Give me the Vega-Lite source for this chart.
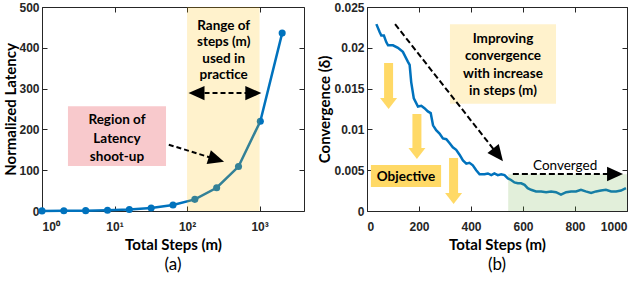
{
  "$schema": "https://vega.github.io/schema/vega-lite/v6.json",
  "padding": {"left": 3, "top": 0, "right": 0, "bottom": 0},
  "bounds": "flush",
  "spacing": 63,
  "datasets": {
    "latency": [
      {"m": 1, "lat": 0.3}, {"m": 2, "lat": 0.5}, {"m": 4, "lat": 0.9}, {"m": 8, "lat": 1.8},
      {"m": 16, "lat": 3.6}, {"m": 32, "lat": 7.2}, {"m": 64, "lat": 14.5}, {"m": 128, "lat": 28.5},
      {"m": 256, "lat": 57}, {"m": 512, "lat": 109}, {"m": 1024, "lat": 220}, {"m": 2048, "lat": 436}
    ],
    "bandA": [{"x0": 100, "x1": 1000, "y0": 0, "y1": 500}],
    "pinkA": [{"x0": 2.28, "x1": 51.3, "y0": 110, "y1": 257}],
    "textA": [
      {"x": 10.8, "y": 223, "t": "Region of"}, {"x": 10.8, "y": 176.5, "t": "Latency"}, {"x": 10.8, "y": 132, "t": "shoot-up"},
      {"x": 320, "y": 453, "t": "Range of"}, {"x": 320, "y": 414, "t": "steps (m)"}, {"x": 320, "y": 372, "t": "used in"}, {"x": 320, "y": 333, "t": "practice"}
    ],
    "rulesA": [{"x0": 56, "y0": 162.5, "x1": 254, "y1": 126.5}, {"x0": 135, "y0": 289, "x1": 820, "y1": 289}],
    "headDiagA": [{"x": 254, "y": 126.5}],
    "headLeftA": [{"x": 135, "y": 289}],
    "headRightA": [{"x": 820, "y": 289}],
    "capA": [{"x": 64, "y": -132, "t": "(a)"}],
    "conv": [
      {"s": 36, "v": 0.0229}, {"s": 49, "v": 0.0219}, {"s": 55, "v": 0.0215}, {"s": 65, "v": 0.0215},
      {"s": 74, "v": 0.0207}, {"s": 81, "v": 0.0203}, {"s": 100, "v": 0.0203}, {"s": 119, "v": 0.0200},
      {"s": 138, "v": 0.0195}, {"s": 157, "v": 0.0183}, {"s": 164, "v": 0.0179}, {"s": 170, "v": 0.0158},
      {"s": 180, "v": 0.0138}, {"s": 196, "v": 0.0128}, {"s": 209, "v": 0.0129}, {"s": 221, "v": 0.0126},
      {"s": 234, "v": 0.0122}, {"s": 245, "v": 0.0120}, {"s": 254, "v": 0.0105}, {"s": 266, "v": 0.0099},
      {"s": 279, "v": 0.0095}, {"s": 292, "v": 0.0089}, {"s": 305, "v": 0.0088}, {"s": 318, "v": 0.0083},
      {"s": 330, "v": 0.0078}, {"s": 343, "v": 0.0075}, {"s": 356, "v": 0.0069}, {"s": 369, "v": 0.0062},
      {"s": 382, "v": 0.0058}, {"s": 394, "v": 0.0059}, {"s": 407, "v": 0.0056}, {"s": 420, "v": 0.0050},
      {"s": 433, "v": 0.0045}, {"s": 452, "v": 0.0045}, {"s": 465, "v": 0.0046}, {"s": 478, "v": 0.0044},
      {"s": 490, "v": 0.0046}, {"s": 503, "v": 0.0044}, {"s": 516, "v": 0.0045}, {"s": 529, "v": 0.0044},
      {"s": 542, "v": 0.0040}, {"s": 554, "v": 0.0038}, {"s": 567, "v": 0.0035}, {"s": 580, "v": 0.0034},
      {"s": 593, "v": 0.0034}, {"s": 606, "v": 0.0032}, {"s": 618, "v": 0.0028}, {"s": 631, "v": 0.0026},
      {"s": 650, "v": 0.0024}, {"s": 670, "v": 0.0024}, {"s": 689, "v": 0.0023}, {"s": 708, "v": 0.0024},
      {"s": 727, "v": 0.0023}, {"s": 746, "v": 0.0020}, {"s": 766, "v": 0.0023}, {"s": 785, "v": 0.0024},
      {"s": 804, "v": 0.0024}, {"s": 823, "v": 0.0026}, {"s": 841, "v": 0.0024}, {"s": 862, "v": 0.0022},
      {"s": 881, "v": 0.0024}, {"s": 900, "v": 0.0025}, {"s": 919, "v": 0.0026}, {"s": 939, "v": 0.0024},
      {"s": 958, "v": 0.0024}, {"s": 977, "v": 0.0025}, {"s": 996, "v": 0.0028}
    ],
    "bandB": [{"x0": 543, "x1": 1000, "y0": 0, "y1": 0.0045}],
    "boxImp": [{"x0": 319, "x1": 727, "y0": 0.01315, "y1": 0.0229}],
    "boxObj": [{"x0": 15, "x1": 285, "y0": 0.00294, "y1": 0.00564}],
    "yShafts": [
      {"x": 83, "y0": 0.01814, "y1": 0.01373},
      {"x": 192, "y0": 0.01189, "y1": 0.0076},
      {"x": 333, "y0": 0.0065, "y1": 0.00208}
    ],
    "yHeads": [{"x": 83, "y": 0.01317}, {"x": 192, "y": 0.00705}, {"x": 333, "y": 0.00153}],
    "rulesB": [{"x0": 108, "y0": 0.0229, "x1": 504, "y1": 0.00688}, {"x0": 561, "y0": 0.00453, "x1": 954, "y1": 0.00453}],
    "headDiagB": [{"x": 504, "y": 0.00688}],
    "headRightB": [{"x": 954, "y": 0.00453}],
    "textBoldB": [
      {"x": 523, "y": 0.02108, "t": "Improving"}, {"x": 523, "y": 0.0190, "t": "convergence"},
      {"x": 523, "y": 0.01679, "t": "with increase"}, {"x": 523, "y": 0.0147, "t": "in steps (m)"},
      {"x": 150, "y": 0.00417, "t": "Objective"}
    ],
    "textConv": [{"x": 762, "y": 0.00551, "t": "Converged"}],
    "capB": [{"x": 500, "y": -0.0066, "t": "(b)"}]
  },
  "hconcat": [
    {
      "width": 262,
      "height": 204,
      "resolve": {"axis": {"x": "independent", "y": "independent"}},
      "layer": [
        {
          "data": {"name": "pinkA"},
          "mark": {"type": "rect", "color": "#F8C9CC"},
          "encoding": {
            "x": {"field": "x0", "type": "quantitative", "scale": {"type": "log", "domain": [1, 4096]}, "axis": null},
            "x2": {"field": "x1"},
            "y": {"field": "y0", "type": "quantitative", "scale": {"domain": [0, 500]}, "axis": null},
            "y2": {"field": "y1"}
          }
        },
        {
          "data": {"name": "latency"},
          "mark": {"type": "line", "color": "#0072BD", "strokeWidth": 2.5},
          "encoding": {
            "x": {"field": "m", "type": "quantitative", "scale": {"type": "log", "domain": [1, 4096]},
              "axis": {"orient": "bottom", "values": [1, 10, 100, 1000], "labelPadding": 15, "titlePadding": 5,
                "labelExpr": "datum.value == 1 ? '10⁰' : datum.value == 10 ? '10¹' : datum.value == 100 ? '10²' : '10³'",
                "title": "Total Steps (m)"}},
            "y": {"field": "lat", "type": "quantitative", "scale": {"domain": [0, 500]},
              "axis": {"orient": "left", "values": [0, 100, 200, 300, 400, 500], "labelPadding": 8, "titlePadding": 0, "title": "Normalized Latency"}}
          }
        },
        {
          "data": {"name": "latency"},
          "mark": {"type": "point", "filled": true, "size": 50, "color": "#0072BD", "opacity": 1},
          "encoding": {
            "x": {"field": "m", "type": "quantitative", "scale": {"type": "log", "domain": [1, 4096]}, "axis": null},
            "y": {"field": "lat", "type": "quantitative", "scale": {"domain": [0, 500]}, "axis": null}
          }
        },
        {
          "data": {"name": "bandA"},
          "mark": {"type": "rect", "color": "#FFC000", "opacity": 0.2},
          "encoding": {
            "x": {"field": "x0", "type": "quantitative", "scale": {"type": "log", "domain": [1, 4096]},
              "axis": {"orient": "top", "values": [1, 10, 100, 1000], "labels": false, "title": null}},
            "x2": {"field": "x1"},
            "y": {"field": "y0", "type": "quantitative", "scale": {"domain": [0, 500]},
              "axis": {"orient": "right", "values": [0, 100, 200, 300, 400, 500], "labels": false, "title": null}},
            "y2": {"field": "y1"}
          }
        },
        {
          "data": {"name": "rulesA"},
          "mark": {"type": "rule", "color": "#000", "strokeWidth": 2, "strokeDash": [5, 3]},
          "encoding": {
            "x": {"field": "x0", "type": "quantitative", "scale": {"type": "log", "domain": [1, 4096]}, "axis": null},
            "x2": {"field": "x1"},
            "y": {"field": "y0", "type": "quantitative", "scale": {"domain": [0, 500]}, "axis": null},
            "y2": {"field": "y1"}
          }
        },
        {
          "data": {"name": "headDiagA"},
          "mark": {"type": "point", "shape": "M0,-1L0.9,1L-0.9,1Z", "filled": true, "color": "#000", "opacity": 1, "size": 256, "angle": 107},
          "encoding": {
            "x": {"field": "x", "type": "quantitative", "scale": {"type": "log", "domain": [1, 4096]}, "axis": null},
            "y": {"field": "y", "type": "quantitative", "scale": {"domain": [0, 500]}, "axis": null}
          }
        },
        {
          "data": {"name": "headLeftA"},
          "mark": {"type": "point", "shape": "M0,-1L0.9,1L-0.9,1Z", "filled": true, "color": "#000", "opacity": 1, "size": 256, "angle": 270},
          "encoding": {
            "x": {"field": "x", "type": "quantitative", "scale": {"type": "log", "domain": [1, 4096]}, "axis": null},
            "y": {"field": "y", "type": "quantitative", "scale": {"domain": [0, 500]}, "axis": null}
          }
        },
        {
          "data": {"name": "headRightA"},
          "mark": {"type": "point", "shape": "M0,-1L0.9,1L-0.9,1Z", "filled": true, "color": "#000", "opacity": 1, "size": 256, "angle": 90},
          "encoding": {
            "x": {"field": "x", "type": "quantitative", "scale": {"type": "log", "domain": [1, 4096]}, "axis": null},
            "y": {"field": "y", "type": "quantitative", "scale": {"domain": [0, 500]}, "axis": null}
          }
        },
        {
          "data": {"name": "textA"},
          "mark": {"type": "text", "baseline": "middle", "align": "center"},
          "encoding": {
            "x": {"field": "x", "type": "quantitative", "scale": {"type": "log", "domain": [1, 4096]}, "axis": null},
            "y": {"field": "y", "type": "quantitative", "scale": {"domain": [0, 500]}, "axis": null},
            "text": {"field": "t"}
          }
        },
        {
          "data": {"name": "capA"},
          "mark": {"type": "text", "baseline": "middle", "align": "center", "fontWeight": "normal", "fontSize": 17},
          "encoding": {
            "x": {"field": "x", "type": "quantitative", "scale": {"type": "log", "domain": [1, 4096]}, "axis": null},
            "y": {"field": "y", "type": "quantitative", "scale": {"domain": [0, 500]}, "axis": null},
            "text": {"field": "t"}
          }
        }
      ]
    },
    {
      "width": 260,
      "height": 204,
      "resolve": {"axis": {"x": "independent", "y": "independent"}},
      "layer": [
        {
          "data": {"name": "boxImp"},
          "mark": {"type": "rect", "color": "#FFF2CC"},
          "encoding": {
            "x": {"field": "x0", "type": "quantitative", "scale": {"domain": [0, 1000]}, "axis": null},
            "x2": {"field": "x1"},
            "y": {"field": "y0", "type": "quantitative", "scale": {"domain": [0, 0.025]}, "axis": null},
            "y2": {"field": "y1"}
          }
        },
        {
          "data": {"name": "boxObj"},
          "mark": {"type": "rect", "color": "#FFD966"},
          "encoding": {
            "x": {"field": "x0", "type": "quantitative", "scale": {"domain": [0, 1000]}, "axis": null},
            "x2": {"field": "x1"},
            "y": {"field": "y0", "type": "quantitative", "scale": {"domain": [0, 0.025]}, "axis": null},
            "y2": {"field": "y1"}
          }
        },
        {
          "data": {"name": "yShafts"},
          "mark": {"type": "rule", "color": "#FFD966", "strokeWidth": 9, "strokeCap": "butt"},
          "encoding": {
            "x": {"field": "x", "type": "quantitative", "scale": {"domain": [0, 1000]}, "axis": null},
            "y": {"field": "y0", "type": "quantitative", "scale": {"domain": [0, 0.025]}, "axis": null},
            "y2": {"field": "y1"}
          }
        },
        {
          "data": {"name": "yHeads"},
          "mark": {"type": "point", "shape": "M0,0.65L1,-0.65L-1,-0.65Z", "filled": true, "color": "#FFD966", "opacity": 1, "size": 289},
          "encoding": {
            "x": {"field": "x", "type": "quantitative", "scale": {"domain": [0, 1000]}, "axis": null},
            "y": {"field": "y", "type": "quantitative", "scale": {"domain": [0, 0.025]}, "axis": null}
          }
        },
        {
          "data": {"name": "conv"},
          "mark": {"type": "line", "color": "#0072BD", "strokeWidth": 2.5},
          "encoding": {
            "x": {"field": "s", "type": "quantitative", "scale": {"domain": [0, 1000]},
              "axis": {"orient": "bottom", "values": [0, 200, 400, 600, 800, 1000], "format": "d", "labelPadding": 15, "titlePadding": 5, "title": "Total Steps (m)"}},
            "y": {"field": "v", "type": "quantitative", "scale": {"domain": [0, 0.025]},
              "axis": {"orient": "left", "values": [0, 0.005, 0.01, 0.015, 0.02, 0.025], "format": "~g", "labelPadding": 8, "titlePadding": 1, "title": "Convergence (δ)"}}
          }
        },
        {
          "data": {"name": "bandB"},
          "mark": {"type": "rect", "color": "#70AD47", "opacity": 0.2},
          "encoding": {
            "x": {"field": "x0", "type": "quantitative", "scale": {"domain": [0, 1000]},
              "axis": {"orient": "top", "values": [0, 200, 400, 600, 800, 1000], "labels": false, "title": null}},
            "x2": {"field": "x1"},
            "y": {"field": "y0", "type": "quantitative", "scale": {"domain": [0, 0.025]},
              "axis": {"orient": "right", "values": [0, 0.005, 0.01, 0.015, 0.02, 0.025], "labels": false, "title": null}},
            "y2": {"field": "y1"}
          }
        },
        {
          "data": {"name": "rulesB"},
          "mark": {"type": "rule", "color": "#000", "strokeWidth": 2, "strokeDash": [6, 3]},
          "encoding": {
            "x": {"field": "x0", "type": "quantitative", "scale": {"domain": [0, 1000]}, "axis": null},
            "x2": {"field": "x1"},
            "y": {"field": "y0", "type": "quantitative", "scale": {"domain": [0, 0.025]}, "axis": null},
            "y2": {"field": "y1"}
          }
        },
        {
          "data": {"name": "headDiagB"},
          "mark": {"type": "point", "shape": "M0,-1L0.9,1L-0.9,1Z", "filled": true, "color": "#000", "opacity": 1, "size": 256, "angle": 142},
          "encoding": {
            "x": {"field": "x", "type": "quantitative", "scale": {"domain": [0, 1000]}, "axis": null},
            "y": {"field": "y", "type": "quantitative", "scale": {"domain": [0, 0.025]}, "axis": null}
          }
        },
        {
          "data": {"name": "headRightB"},
          "mark": {"type": "point", "shape": "M0,-1L0.9,1L-0.9,1Z", "filled": true, "color": "#000", "opacity": 1, "size": 256, "angle": 90},
          "encoding": {
            "x": {"field": "x", "type": "quantitative", "scale": {"domain": [0, 1000]}, "axis": null},
            "y": {"field": "y", "type": "quantitative", "scale": {"domain": [0, 0.025]}, "axis": null}
          }
        },
        {
          "data": {"name": "textBoldB"},
          "mark": {"type": "text", "baseline": "middle", "align": "center"},
          "encoding": {
            "x": {"field": "x", "type": "quantitative", "scale": {"domain": [0, 1000]}, "axis": null},
            "y": {"field": "y", "type": "quantitative", "scale": {"domain": [0, 0.025]}, "axis": null},
            "text": {"field": "t"}
          }
        },
        {
          "data": {"name": "textConv"},
          "mark": {"type": "text", "baseline": "middle", "align": "center", "fontWeight": "normal", "fontSize": 13.5},
          "encoding": {
            "x": {"field": "x", "type": "quantitative", "scale": {"domain": [0, 1000]}, "axis": null},
            "y": {"field": "y", "type": "quantitative", "scale": {"domain": [0, 0.025]}, "axis": null},
            "text": {"field": "t"}
          }
        },
        {
          "data": {"name": "capB"},
          "mark": {"type": "text", "baseline": "middle", "align": "center", "fontWeight": "normal", "fontSize": 17},
          "encoding": {
            "x": {"field": "x", "type": "quantitative", "scale": {"domain": [0, 1000]}, "axis": null},
            "y": {"field": "y", "type": "quantitative", "scale": {"domain": [0, 0.025]}, "axis": null},
            "text": {"field": "t"}
          }
        }
      ]
    }
  ],
  "config": {
    "view": {"stroke": "#262626", "strokeWidth": 1},
    "axis": {
      "domain": false, "grid": false, "ticks": true, "tickSize": -5, "tickColor": "#262626", "tickWidth": 1,
      "labelFont": "Liberation Sans", "labelFontSize": 12, "labelFontWeight": "bold", "labelColor": "#262626",
      "titleFont": "Lato", "titleFontSize": 15, "titleFontWeight": "bold", "titleColor": "#000"
    },
    "text": {"font": "Lato", "fontSize": 13.5, "fontWeight": "bold", "color": "#000"}
  }
}
